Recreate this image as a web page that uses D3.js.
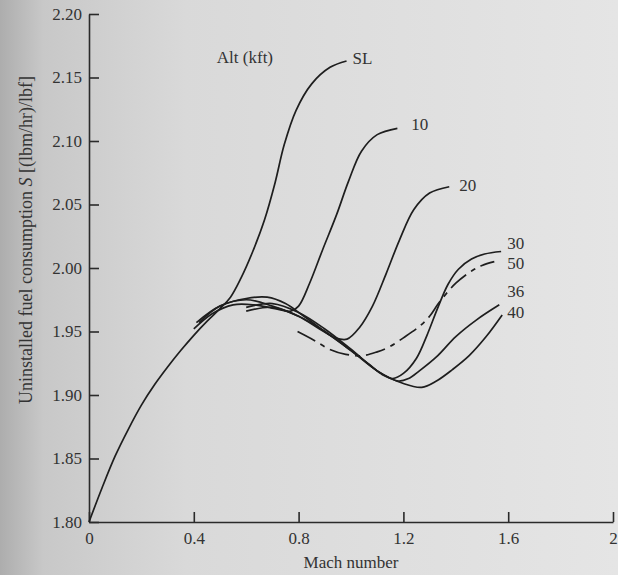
<!DOCTYPE html>
<html>
<head>
<meta charset="utf-8">
<script src="https://cdn.jsdelivr.net/npm/d3@7"></script>
<style>
  html, body { margin: 0; padding: 0; }
  svg { display: block; }
  text { font-family: "Liberation Serif", "DejaVu Serif", serif; fill: #333; }
</style>
</head>
<body>
<svg id="chart" width="618" height="575"></svg>
<script>
// tick values
const machTicks = [0, 0.4, 0.8, 1.2, 1.6, 2];
const sfcTicks = [1.80, 1.85, 1.90, 1.95, 2.00, 2.05, 2.10, 2.15, 2.20];

// curves, [Mach, S]
const altSL = [[0,1.800],[0.05,1.827],[0.10,1.852],[0.15,1.873],[0.20,1.892],[0.25,1.908],[0.30,1.922],
  [0.35,1.935],[0.40,1.947],[0.45,1.958],[0.50,1.968],[0.54,1.977],[0.58,1.992],[0.625,2.013],[0.67,2.038],
  [0.71,2.067],[0.745,2.097],[0.79,2.124],[0.85,2.145],[0.92,2.158],[0.983,2.163]];
const alt10 = [[0.40,1.952],[0.47,1.964],[0.55,1.971],[0.63,1.971],[0.71,1.968],[0.77,1.966],[0.80,1.970],
  [0.842,1.988],[0.891,2.014],[0.945,2.042],[0.99,2.068],[1.04,2.092],[1.10,2.105],[1.177,2.110]];
const alt20 = [[0.41,1.957],[0.50,1.970],[0.60,1.975],[0.70,1.970],[0.80,1.962],[0.88,1.952],[0.94,1.945],
  [0.985,1.944],[1.032,1.953],[1.082,1.970],[1.135,1.996],[1.185,2.022],[1.24,2.046],[1.30,2.059],[1.375,2.064]];
const alt30 = [[0.42,1.957],[0.50,1.970],[0.60,1.976],[0.68,1.977],[0.75,1.972],[0.82,1.962],[0.90,1.950],
  [0.96,1.941],[1.02,1.932],[1.07,1.924],[1.12,1.916],[1.16,1.913],[1.20,1.917],[1.25,1.929],[1.29,1.947],
  [1.33,1.968],[1.37,1.987],[1.41,1.999],[1.46,2.007],[1.51,2.011],[1.573,2.013]];
const alt36 = [[0.60,1.969],[0.70,1.972],[0.80,1.965],[0.90,1.952],[1.00,1.936],[1.10,1.919],[1.18,1.911],
  [1.22,1.913],[1.261,1.919],[1.326,1.930],[1.40,1.946],[1.478,1.959],[1.566,1.971]];
const alt40 = [[0.60,1.966],[0.70,1.969],[0.80,1.962],[0.90,1.950],[1.00,1.935],[1.10,1.919],[1.20,1.909],
  [1.27,1.906],[1.326,1.911],[1.387,1.920],[1.451,1.931],[1.516,1.946],[1.577,1.963]];
const alt50 = [[0.796,1.950],[0.86,1.943],[0.918,1.936],[0.98,1.932],[1.044,1.931],[1.10,1.934],[1.147,1.938],
  [1.20,1.945],[1.261,1.954],[1.30,1.962],[1.337,1.973],[1.40,1.988],[1.463,1.998],[1.50,2.002],[1.547,2.005]];

const altNames = ["SL", "10", "20", "30", "36", "40", "50"];
const altCurves = [altSL, alt10, alt20, alt30, alt36, alt40, alt50];
const altDashed = [false, false, false, false, false, false, true];
// where each name sits, in Mach / S units
const labelAt = [[1.006,2.165],[1.230,2.113],[1.413,2.065],[1.596,2.020],[1.596,1.982],[1.596,1.965],[1.596,2.004]];

const svg = d3.select("#chart");
const W = 618, H = 575;

// scanned-page background
const defs = svg.append("defs");
const grad = defs.append("linearGradient").attr("id", "paper")
    .attr("x1", 0).attr("x2", 1).attr("y1", 0).attr("y2", 0);
grad.append("stop").attr("offset", "0%").attr("stop-color", "#adadad");
grad.append("stop").attr("offset", "7%").attr("stop-color", "#c8c8c8");
grad.append("stop").attr("offset", "30%").attr("stop-color", "#d9d9d9");
grad.append("stop").attr("offset", "100%").attr("stop-color", "#e5e5e5");
svg.append("rect").attr("width", W).attr("height", H).attr("fill", "url(#paper)");

const x = d3.scaleLinear().domain([0, 2]).range([89, 613]);
const y = d3.scaleLinear().domain([1.80, 2.20]).range([522, 14]);

const xAxis = d3.axisBottom(x).tickValues(machTicks)
    .tickFormat(d => d === 0 || d === 2 ? String(d) : d.toFixed(1))
    .tickSizeInner(-10).tickSizeOuter(0).tickPadding(10);
const yAxis = d3.axisLeft(y).tickValues(sfcTicks)
    .tickFormat(d3.format(".2f"))
    .tickSizeInner(-10).tickSizeOuter(0).tickPadding(7);

const gx = svg.append("g").attr("class", "x-axis")
    .attr("transform", `translate(0, ${y(1.80)})`).call(xAxis);
const gy = svg.append("g").attr("class", "y-axis")
    .attr("transform", `translate(${x(0)}, 0)`).call(yAxis);

[gx, gy].forEach(g => {
    g.selectAll("path, line").attr("stroke", "#2a2a2a").attr("stroke-width", 1.6);
    g.selectAll("text").attr("font-size", 17).attr("fill", "#333")
        .style("font-family", '"Liberation Serif", serif');
});

const line = d3.line()
    .x(d => x(d[0]))
    .y(d => y(d[1]))
    .curve(d3.curveCatmullRom.alpha(0.5));

svg.append("g").selectAll("path")
    .data(altCurves)
    .join("path")
    .attr("d", line)
    .attr("fill", "none")
    .attr("stroke", "#1e1e1e")
    .attr("stroke-width", 1.7)
    .attr("stroke-dasharray", (d, i) => altDashed[i] ? "20,6,5,6" : null);

svg.append("g").selectAll("text")
    .data(altNames)
    .join("text")
    .attr("x", (d, i) => x(labelAt[i][0]))
    .attr("y", (d, i) => y(labelAt[i][1]))
    .attr("dy", "0.35em")
    .attr("font-size", 17)
    .text(d => d);

svg.append("text")
    .attr("x", x(0.488)).attr("y", y(2.166)).attr("dy", "0.35em")
    .attr("font-size", 17)
    .text("Alt (kft)");

svg.append("text")
    .attr("x", x(1.0)).attr("y", 568)
    .attr("text-anchor", "middle")
    .attr("font-size", 17)
    .text("Mach number");

const yl = svg.append("text")
    .attr("transform", "translate(32, 240) rotate(-90)")
    .attr("text-anchor", "middle")
    .attr("font-size", 18);
yl.append("tspan").text("Uninstalled fuel consumption ");
yl.append("tspan").attr("font-style", "italic").text("S");
yl.append("tspan").text(" [(lbm/hr)/lbf]");
</script>
</body>
</html>
